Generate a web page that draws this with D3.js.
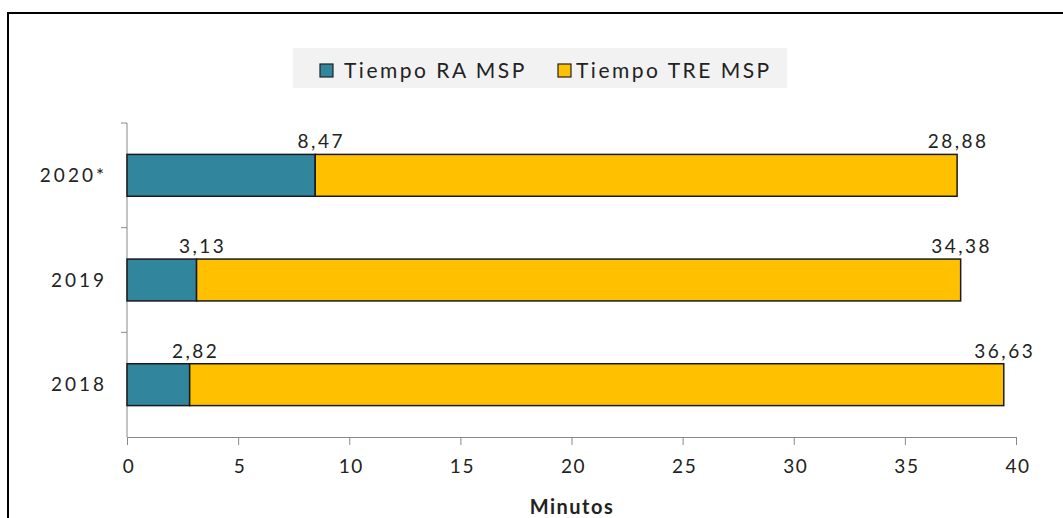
<!DOCTYPE html>
<html><head><meta charset="utf-8">
<script src="https://cdn.jsdelivr.net/npm/d3@7"></script>
<style>body{margin:0;background:#fff}svg{display:block}text{font-family:"Lato","Open Sans",sans-serif;fill:#222}</style>
</head><body><svg id="c" width="1063" height="518"></svg>
<script>
const categories = ["2020*", "2019", "2018"];
const seriesNames = ["Tiempo RA MSP", "Tiempo TRE MSP"];
const raValues = [8.47, 3.13, 2.82];
const treValues = [28.88, 34.38, 36.63];
const labelsRA = ["8,47", "3,13", "2,82"];
const labelsTRE = ["28,88", "34,38", "36,63"];
const xTicks = [0, 5, 10, 15, 20, 25, 30, 35, 40];
const colors = ["#31859C", "#FFC000"];

const svg = d3.select("#c");
// outer frame
svg.append("rect").attr("x", 8).attr("y", 13).attr("width", 1100).attr("height", 600)
  .attr("fill", "none").attr("stroke", "#000").attr("stroke-width", 2);

const x = d3.scaleLinear().domain([0, 40]).range([127, 1016]);
const y = d3.scaleBand().domain(categories).range([123, 437]).paddingInner(0.6).paddingOuter(0.3);

// axes
const gx = svg.append("g").attr("transform", "translate(0,437)")
  .call(d3.axisBottom(x).tickValues(xTicks).tickSize(8).tickPadding(15));
gx.select(".domain").attr("stroke", "#888");
gx.selectAll(".tick line").attr("stroke", "#888");
gx.selectAll(".tick text").attr("font-size", 19).attr("fill", "#222").attr("letter-spacing", 1.5)
  .attr("dx", 1.5).style("font-family", '"Lato","Open Sans",sans-serif');

const yEdges = d3.scaleLinear().domain([0, 3]).range([123, 437]);
svg.append("line").attr("x1", 127).attr("x2", 127).attr("y1", 123).attr("y2", 437).attr("stroke", "#888");
svg.selectAll(".ytick").data(d3.range(0, 3)).join("line")
  .attr("x1", 121).attr("x2", 127).attr("y1", d => yEdges(d)).attr("y2", d => yEdges(d)).attr("stroke", "#888");
svg.selectAll(".ylab").data(categories).join("text")
  .attr("x", 107).attr("y", d => y(d) + y.bandwidth() / 2).attr("dy", "0.35em")
  .attr("text-anchor", "end").attr("font-size", 19).attr("letter-spacing", 3).text(d => d);

// bars
const rows = categories.map((c, i) => ({ c, ra: raValues[i], tre: treValues[i], lra: labelsRA[i], ltre: labelsTRE[i] }));
svg.selectAll(".ra").data(rows).join("rect")
  .attr("x", x(0)).attr("y", d => y(d.c)).attr("width", d => x(d.ra) - x(0)).attr("height", y.bandwidth())
  .attr("fill", colors[0]).attr("stroke", "#1a1a1a").attr("stroke-width", 1.5);
svg.selectAll(".tre").data(rows).join("rect")
  .attr("x", d => x(d.ra)).attr("y", d => y(d.c)).attr("width", d => x(d.ra + d.tre) - x(d.ra)).attr("height", y.bandwidth())
  .attr("fill", colors[1]).attr("stroke", "#1a1a1a").attr("stroke-width", 1.5);

// labels
svg.selectAll(".lra").data(rows).join("text")
  .attr("x", d => x(d.ra) + 6).attr("y", d => y(d.c) - 6).attr("text-anchor", "middle")
  .attr("font-size", 19).attr("letter-spacing", 2.5).text(d => d.lra);
svg.selectAll(".ltre").data(rows).join("text")
  .attr("x", d => x(d.ra + d.tre) + 1).attr("y", d => y(d.c) - 6).attr("text-anchor", "middle")
  .attr("font-size", 19).attr("letter-spacing", 2.5).text(d => d.ltre);

// x title
svg.append("text").attr("x", 572).attr("y", 514).attr("text-anchor", "middle")
  .attr("font-size", 20).attr("font-weight", "bold").attr("letter-spacing", 1.5).text("Minutos");

// legend
const lg = svg.append("g");
lg.append("rect").attr("x", 293).attr("y", 48).attr("width", 494).attr("height", 40).attr("fill", "#f2f2f2");
const items = [{ n: seriesNames[0], c: colors[0], sx: 320, tx: 344 }, { n: seriesNames[1], c: colors[1], sx: 558, tx: 576 }];
items.forEach(it => {
  lg.append("rect").attr("x", it.sx).attr("y", 64).attr("width", 13).attr("height", 13)
    .attr("fill", it.c).attr("stroke", "#222").attr("stroke-width", 1.2);
  lg.append("text").attr("x", it.tx).attr("y", 70.5).attr("dy", "0.35em").attr("font-size", 21)
    .attr("letter-spacing", 2.5).text(it.n);
});
</script></body></html>
